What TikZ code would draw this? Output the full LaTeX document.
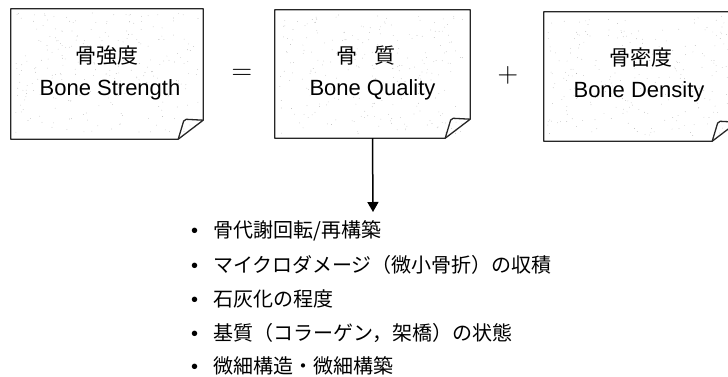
\documentclass[tikz,border=0pt]{standalone}
\usepackage{fontspec}
\newfontfamily\jp{Noto Sans CJK JP}
\newfontfamily\lat{Liberation Sans}
\usetikzlibrary{calc,arrows.meta,backgrounds}
\newcommand\foldbox[1]{%
  \draw[outline] ($(#1.south east)+(-25,0)$) -- (#1.south west) -- (#1.north west)
     -- (#1.north east) -- ($(#1.south east)+(0,-19)$) -- cycle;
  \draw[outline, rounded corners=2pt] ($(#1.south east)+(-25,0)$) -- ($(#1.south east)+(-19,-20)$) -- ($(#1.south east)+(0,-19)$);
}
\newcommand\speckle[1]{%
  \foreach \k in {1,...,260}{
    \fill[black!35] ($(#1.north west)+({4+rnd*185},{4+rnd*120})$) circle (0.35pt);
  }
}
\begin{document}
\begin{tikzpicture}[x=1pt,y=-1pt,
  box/.style={inner sep=0pt, draw=none},
  outline/.style={line width=1.3pt, black!85, line join=round},
  jt/.style={font=\jp\fontsize{21}{21}\selectfont, inner sep=0pt},
  et/.style={font=\lat\fontsize{22}{22}\selectfont, inner sep=0pt, anchor=base},
  item/.style={font=\jp\fontsize{20}{20}\selectfont, inner sep=0pt, anchor=west},
  op/.style={font=\fontsize{28.5}{30}\selectfont, inner sep=0pt},
  arr/.style={-{Triangle[width=11pt,length=10pt]}, line width=1.5pt}]
\useasboundingbox (0,0) rectangle (728,377);
\pgfmathsetseed{11}
% boxes
\node[box, minimum width=192pt, minimum height=130pt] (b1) at (107,74) {};
\node[box, minimum width=195pt, minimum height=128pt] (b2) at (372.5,74) {};
\node[box, minimum width=193pt, minimum height=129pt] (b3) at (640.5,76.5) {};
\speckle{b1}
\speckle{b2}
\speckle{b3}
\foldbox{b1}
\foldbox{b2}
\foldbox{b3}
% box texts
\node[jt] (j1) at (107,56) {骨強度};
\node[et] (e1) at (110,96) {Bone Strength};
\node[jt] (j2) at (366,56) {骨\hspace{17pt}質};
\node[et] (e2) at (372.5,96) {Bone Quality};
\node[jt] (j3) at (641,58) {骨密度};
\node[et] (e3) at (639,98) {Bone Density};
% operators
\node[op] (eq) at (242,74) {=};
\node[op] (pl) at (508,75) {+};
% arrow
\coordinate (tip) at (373,212);
\draw[arr] (b2.south) -- (tip);
% list
\node[item] (l1) at (191,231) {\makebox[22pt][l]{\lat •}骨代謝回転/再構築};
\node[item] (l2) at (191,265) {\makebox[22pt][l]{\lat •}マイクロダメージ（微小骨折）の収積};
\node[item] (l3) at (191,299) {\makebox[22pt][l]{\lat •}石灰化の程度};
\node[item] (l4) at (191,333) {\makebox[22pt][l]{\lat •}基質（コラーゲン，架橋）の状態};
\node[item] (l5) at (191,366) {\makebox[22pt][l]{\lat •}微細構造・微細構築};
\end{tikzpicture}
\end{document}
